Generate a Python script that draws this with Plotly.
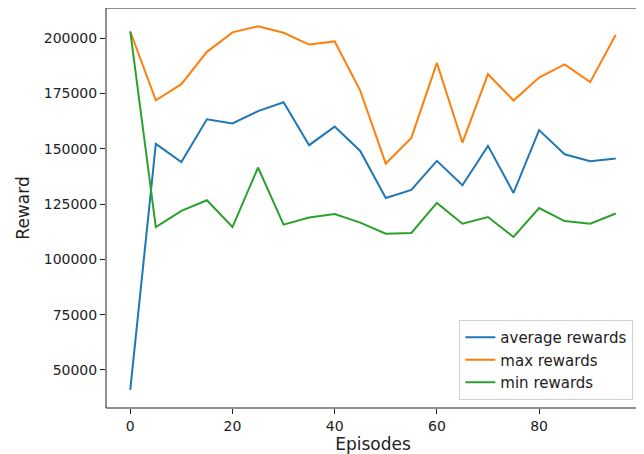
import plotly.graph_objects as go

episodes = list(range(0, 100, 5))
avg_rewards = [41000, 152200, 144000, 163300, 161400, 167000, 171000, 151600, 160000, 149000,
               127700, 131400, 144500, 133500, 151300, 130000, 158400, 147500, 144300, 145600]
max_rewards = [203000, 171900, 179200, 193800, 202600, 205400, 202400, 197100, 198500, 176300,
               143300, 154900, 188800, 152800, 183700, 171800, 182200, 188100, 180100, 201500]
min_rewards = [203000, 114600, 121900, 126700, 114600, 141500, 115700, 118900, 120500, 116600,
               111600, 111900, 125500, 116100, 119100, 110100, 123200, 117300, 116100, 120700]

series = [("average rewards", avg_rewards, "#1f77b4"),
          ("max rewards", max_rewards, "#ff7f0e"),
          ("min rewards", min_rewards, "#2ca02c")]

fig = go.Figure()
for name, vals, col in series:
    fig.add_trace(go.Scatter(x=episodes, y=vals, mode="lines", name=name,
                             line=dict(color=col, width=2)))

font = dict(family="DejaVu Sans", size=14, color="#222222")
# the page body has an 8px margin; the figure is sized so the plot area
# lands where the reference has it
fig.update_layout(
    width=636, height=446,
    margin=dict(l=98, r=4, t=0, b=46),
    paper_bgcolor="white", plot_bgcolor="white",
    font=font,
    showlegend=True,
    legend=dict(x=0.9875, y=0.02, xanchor="right", yanchor="bottom",
                bordercolor="#d0d0d0", borderwidth=1, bgcolor="rgba(255,255,255,0.8)",
                font=dict(family="DejaVu Sans", size=15, color="#222222"),
                tracegroupgap=0, itemwidth=30),
    shapes=[dict(type="rect", xref="paper", yref="paper", x0=0, y0=0, x1=1, y1=1,
                 line=dict(color="#222222", width=1), layer="above")],
)
fig.update_xaxes(range=[-4.75, 99.75], tickvals=[0, 20, 40, 60, 80],
                 showgrid=False, zeroline=False, showline=False,
                 ticks="outside", ticklen=5, tickcolor="#222222",
                 title=dict(text="Episodes", standoff=8))
fig.update_yaxes(range=[32780, 213620],
                 tickvals=[50000, 75000, 100000, 125000, 150000, 175000, 200000],
                 ticktext=["50000", "75000", "100000", "125000", "150000", "175000", "200000"],
                 showgrid=False, zeroline=False, showline=False,
                 ticks="outside", ticklen=5, tickcolor="#222222",
                 title=dict(text="Reward", standoff=9))

fig.write_html("out.html")
